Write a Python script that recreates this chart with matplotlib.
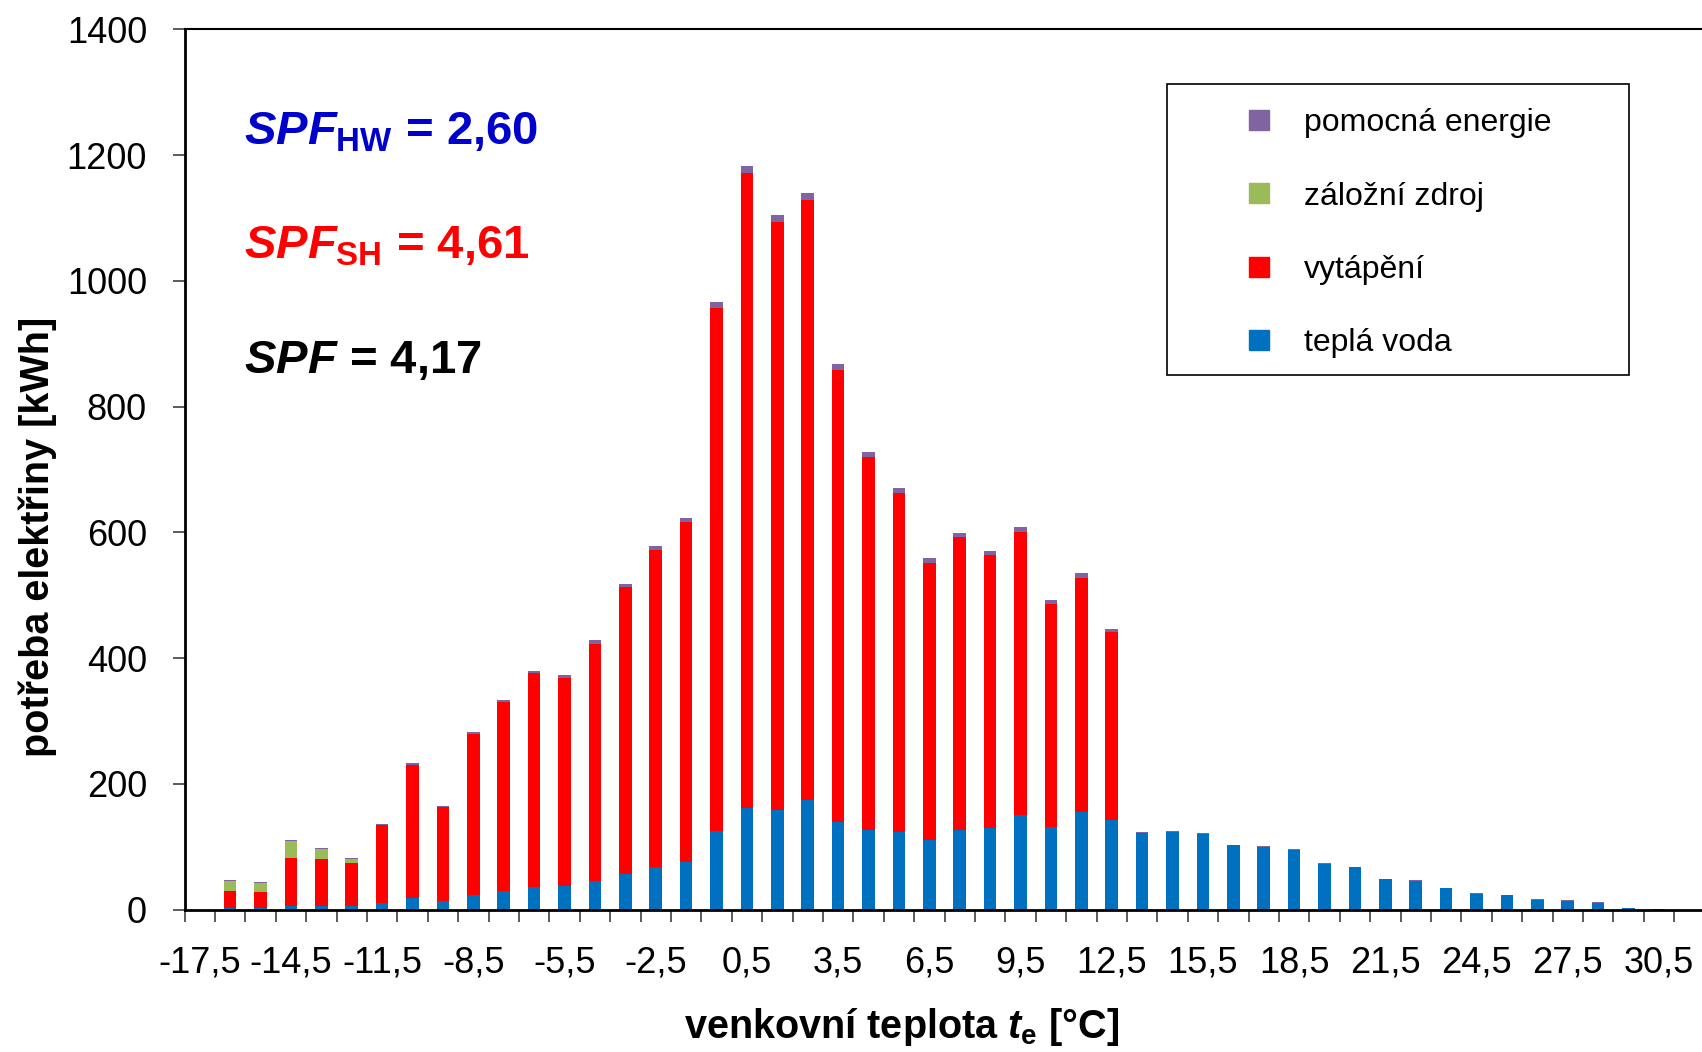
import numpy as np
import matplotlib
matplotlib.use('Agg')
import matplotlib.pyplot as plt
from matplotlib.lines import Line2D
from matplotlib.patches import Rectangle
from matplotlib import font_manager as fm

# teploty (stred intervalu) -17,5 ... 30,5
teploty = np.arange(-17.5, 31.0, 1.0)
popisky = [f"{t:.1f}".replace('.', ',') for t in teploty]

tepla_voda = [0, 2, 2, 5, 5, 5, 10, 18, 13, 24, 30, 36, 37, 45, 57, 67, 76,
              125, 161, 159, 174, 140, 126, 123, 110, 127, 130, 150, 131, 156, 143,
              122, 124, 121, 102, 100, 95, 73, 67, 48, 46, 34, 25, 23, 16, 14, 11, 2, 1]
vytapeni = [0, 27, 26, 77, 75, 69, 125, 212, 150, 256, 300, 340, 332, 378, 456, 505, 541,
            831, 1010, 935, 954, 718, 594, 539, 442, 465, 434, 451, 355, 372, 298,
            0, 0, 0, 0, 0, 0, 0, 0, 0, 0, 0, 0, 0, 0, 0, 0, 0, 0]
zalozni_zdroj = [0, 17, 14, 27, 17, 6.5] + [0] * 43
pomocna_energie = [0, 1.5, 1.5, 1.5, 1.5, 1.5, 1.5, 3, 2, 3, 3, 4, 4, 5, 5, 6, 6,
                   10, 11, 11, 11, 9, 8, 8, 7, 7, 7, 8, 6, 7, 6,
                   1, 1, 1, 1, 1, 1, 1, 1, 1, 1, 1, 1, 1, 1, 1, 1, 0.5, 0.5]

serie = [
    ("teplá voda", tepla_voda, "#0070C0"),
    ("vytápění", vytapeni, "#FF0000"),
    ("záložní zdroj", zalozni_zdroj, "#9BBB59"),
    ("pomocná energie", pomocna_energie, "#8064A2"),
]

# uzke pismo, pokud je k dispozici
nazvy = {f.name for f in fm.fontManager.ttflist}
if 'Liberation Sans Narrow' in nazvy:
    PISMO, sz_tick, sz_leg, sz_lab = 'Liberation Sans Narrow', 30, 25, 32
else:
    PISMO, sz_tick, sz_leg, sz_lab = 'Liberation Sans', 26, 23, 28.5

plt.rcParams['font.family'] = [PISMO, 'DejaVu Sans']
plt.rcParams['mathtext.fontset'] = 'custom'
plt.rcParams['mathtext.it'] = 'Liberation Sans:italic:bold'
plt.rcParams['mathtext.rm'] = 'Liberation Sans:bold'
plt.rcParams['mathtext.bf'] = 'Liberation Sans:bold'

W, H = 1702, 1052
fig = plt.figure(figsize=(W / 100, H / 100), dpi=100)
ax = fig.add_axes([184.5 / W, 1 - 909.6 / H, 50 * 30.4 / W, (909.6 - 29.3) / H])

x = np.arange(len(teploty))
spodek = np.zeros(len(teploty))
for nazev, hodnoty, barva in serie:
    hodnoty = np.array(hodnoty, dtype=float)
    ax.bar(x, hodnoty, width=0.41, bottom=spodek, color=barva, linewidth=0, label=nazev)
    spodek += hodnoty

ax.set_xlim(-0.5, 49.5)
ax.set_ylim(0, 1400)
ax.set_yticks(np.arange(0, 1401, 200))
ax.tick_params(axis='y', which='major', length=9, width=1.2, color='#404040',
               labelsize=sz_tick, pad=18)

# carky na hranicich intervalu, popisky kazdy treti interval
ax.set_xticks(np.arange(-0.5, 49.6, 1.0))
ax.set_xticklabels([])
ax.set_xticks(x[::3], minor=True)
ax.set_xticklabels(popisky[::3], minor=True)
ax.tick_params(axis='x', which='major', length=8.5, width=1.2, color='#404040')
ax.tick_params(axis='x', which='minor', length=0, labelsize=sz_tick, pad=26)

for s in ['left', 'bottom']:
    ax.spines[s].set_linewidth(2)
ax.spines['top'].set_linewidth(1.5)
ax.spines['right'].set_visible(False)

fig.text(38 / W, 1 - 537 / H, "potřeba elektřiny [kWh]", rotation=90,
         ha='center', va='center', fontsize=sz_lab, fontweight='bold')
fig.text(902 / W, 1 - 1038 / H, r"venkovní teplota $\mathit{t}_{\mathrm{e}}$ [°C]",
         ha='center', va='baseline', fontsize=sz_lab, fontweight='bold')

# SPF
spf = [
    (r"$\mathit{SPF}_{\mathrm{HW}}$ = 2,60", '#0000CC', 144),
    (r"$\mathit{SPF}_{\mathrm{SH}}$ = 4,61", '#FF0000', 259),
    (r"$\mathit{SPF}$ = 4,17", 'black', 373),
]
for txt, barva, yb in spf:
    fig.text(244 / W, 1 - yb / H, txt, color=barva, fontsize=34, fontweight='bold',
             family='Liberation Sans', va='baseline', ha='left')

# legenda
fig.patches.append(Rectangle((1167 / W, 1 - 374.6 / H), (1629 - 1167) / W, (374.6 - 83.6) / H,
                             transform=fig.transFigure, fill=False, edgecolor='black',
                             linewidth=1.2, zorder=5))
handles = [Line2D([], [], marker='s', ls='', color=b, markersize=14.5)
           for _, _, b in serie[::-1]]
labels = [n for n, _, _ in serie[::-1]]
fig.legend(handles, labels, loc='upper left', bbox_to_anchor=(1246 / W, 1 - 108.5 / H),
           frameon=False, fontsize=sz_leg, handlelength=0.8, handletextpad=1.0,
           labelspacing=1.35, borderpad=0, borderaxespad=0)

fig.savefig('out.png', dpi=100)
